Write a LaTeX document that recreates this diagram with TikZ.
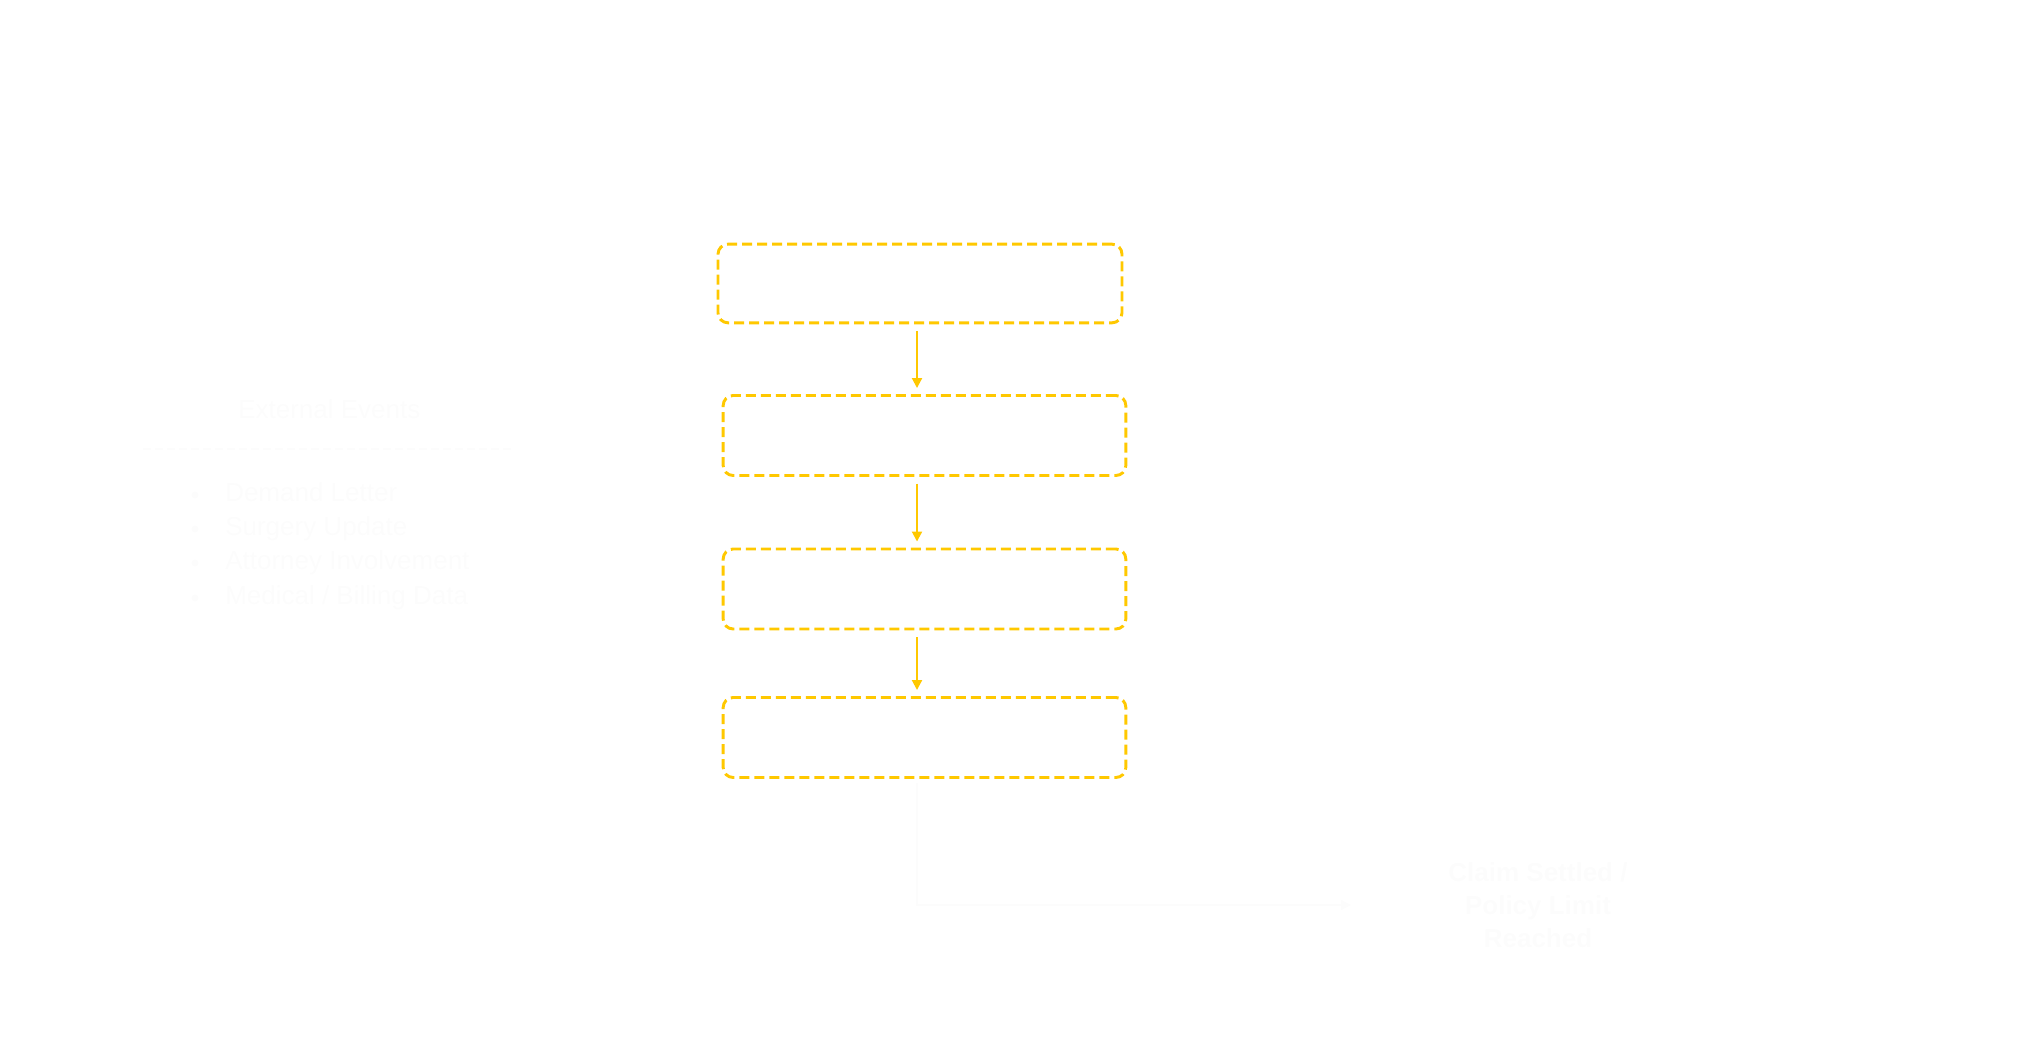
\documentclass[tikz,border=0pt]{standalone}
\usepackage{fontspec}
\setmainfont{Liberation Sans}
\usetikzlibrary{arrows.meta}
\definecolor{ylw}{RGB}{255,200,0}
\definecolor{ghost}{RGB}{252,252,252}
\definecolor{ghostline}{RGB}{252,252,252}
\begin{document}
\begin{tikzpicture}[x=0.75pt,y=-0.75pt,
  stagebox/.style={draw=ylw, dash pattern=on 7.5pt off 3.75pt, line width=2.2pt,
    rounded corners=7.5pt, minimum width=302pt, minimum height=60pt, inner sep=0pt},
  flow/.style={draw=ylw, line width=1.5pt, -{Triangle[length=7.5pt,width=7.5pt]},
    shorten <=5pt, shorten >=4.5pt},
  faintflow/.style={draw=ghostline, line width=1.5pt, -{Triangle[length=7.5pt,width=7.5pt]}},
  ghosttext/.style={text=ghost, font=\fontsize{19.5}{24.75}\selectfont, inner sep=0pt,
    text height=14pt, text depth=4pt, anchor=west},
  endtext/.style={text=ghost, font=\bfseries\fontsize{19.5}{24.75}\selectfont, align=center,
    minimum width=280pt, inner sep=0pt}]
\useasboundingbox (0,0) rectangle (2031,1062);
% flow boxes
\node[stagebox, minimum width=303pt, minimum height=59pt] (b1) at (920,283.5) {};
\node[stagebox] (b2) at (924.5,435.5) {};
\node[stagebox] (b3) at (924.5,589) {};
\node[stagebox] (b4) at (924.5,737.5) {};
\coordinate (ax) at (917,0);
\draw[flow] (b1.south -| ax) -- (b2.north -| ax);
\draw[flow] (b2.south -| ax) -- (b3.north -| ax);
\draw[flow] (b3.south -| ax) -- (b4.north -| ax);
% end node
\node[endtext] (end) at (1538,905) {Claim Settled /\\Policy Limit\\Reached};
\draw[faintflow] ([yshift=-3pt]b4.south -| ax) |- (end.west);
% external events panel
\node[ghosttext] (ext) at (238,412) {External Events};
\coordinate (sepL) at (143,449);
\coordinate (sepR) at (515,449);
\draw[ghostline, line width=1.5pt, dash pattern=on 6pt off 3pt] (sepL) -- (sepR);
\foreach \y/\t/\n in {495/{Demand Letter}/e1, 529/{Surgery Update}/e2, 563/{Attorney Involvement}/e3, 598/{Medical / Billing Data}/e4}{
  \fill[ghost] (195,\y) circle (3.5);
  \node[ghosttext] (\n) at (225,\y) {\t};
}
\end{tikzpicture}
\end{document}
